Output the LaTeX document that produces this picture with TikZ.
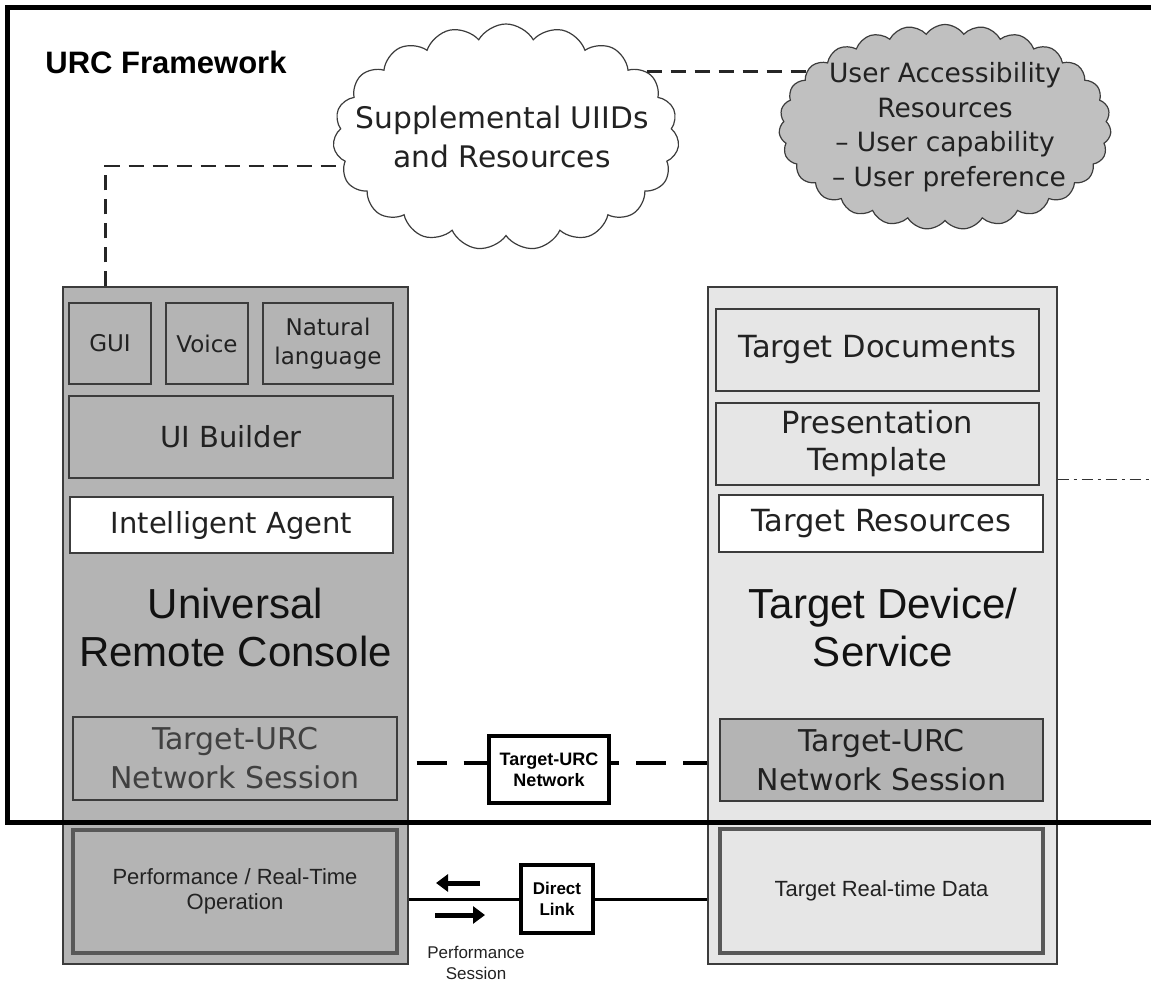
\documentclass[tikz,border=0pt]{standalone}
\usepackage{fontspec}
\setmainfont{Liberation Sans}
\newfontfamily\dv{DejaVu Sans}
\usetikzlibrary{shapes.symbols,arrows.meta,calc}
\definecolor{gA}{HTML}{B4B4B4}
\definecolor{gB}{HTML}{E6E6E6}
\definecolor{gC}{HTML}{C0C0C0}
\definecolor{ln}{HTML}{3C3C3C}
\definecolor{pb}{HTML}{585858}
\definecolor{tx}{HTML}{222222}
\begin{document}
\begin{tikzpicture}[x=1pt,y=-1pt,
  bx/.style 2 args={minimum width=#1pt, minimum height=#2pt},
  bigbox/.style={draw=ln, line width=1.3pt, rectangle, inner sep=0pt},
  box/.style={draw=ln, line width=1.4pt, rectangle, inner sep=0pt, align=center, text=tx},
  perfbox/.style={draw=pb, line width=3.5pt, rectangle, inner sep=0pt, align=center, text=tx,
     font=\fontsize{22}{25}\selectfont},
  thickbox/.style={draw=black, line width=4pt, fill=white, rectangle, inner sep=0pt, align=center},
  fA/.style={font=\dv\fontsize{29}{37}\selectfont},
  fR/.style={font=\dv\fontsize{30.5}{37}\selectfont},
  fNet/.style={font=\dv\fontsize{30}{39}\selectfont},
  fS/.style={font=\dv\fontsize{23}{29}\selectfont},
  fBig/.style={font=\fontsize{42}{48}\selectfont, align=center, text=black!93},
  dashline/.style={draw=black!85, line width=2.4pt, dash pattern=on 15pt off 9pt},
  netdash/.style={draw=black, line width=4pt, dash pattern=on 30pt off 17pt},
  dashdotline/.style={draw=black!80, line width=1pt, dash pattern=on 11pt off 5pt on 3pt off 5pt},
  solidline/.style={draw=black, line width=3pt},
  fatarrow/.style={draw=black, line width=5pt, -{Triangle[length=12pt,width=17pt]}},
  cloudshape/.style={cloud, draw=ln, line width=1.2pt, inner sep=0pt, cloud ignores aspect}
]
\useasboundingbox (0,0) rectangle (1151,981);

% clouds
\node[cloudshape, cloud puffs=19, cloud puff arc=120, fill=white, bx={346}{226}] (supp) at (506,137) {};
\node[font=\dv\fontsize{29.7}{39}\selectfont, align=center, text=tx] (supptxt) at (502,137) {Supplemental UIIDs\\and Resources};
\node[cloudshape, cloud puffs=27, cloud puff arc=110, fill=gC, bx={332}{205}] (uar) at (945,127) {};
\node[font=\dv\fontsize{26.5}{34.5}\selectfont, align=center, text=tx] (uartxt) at (945,127)
  {User Accessibility\\Resources\\– User capability\\\hspace*{8pt}– User preference};

% big columns
\node[bigbox, fill=gA, bx={345}{677}] (bigL) at (235.5,625.5) {};
\node[bigbox, fill=gB, bx={349}{677}] (bigR) at (882.5,625.5) {};

% left column
\node[box, fill=gA, bx={82}{81}, fS] (gui) at (110,343.5) {GUI};
\node[box, fill=gA, bx={82}{81}, fS] (voice) at (207,343.5) {Voice};
\node[box, fill=gA, bx={130}{81}, fS] (natl) at (328,343.5) {Natural\\language};
\node[box, fill=gA, bx={324}{82}, fA] (uib) at (231,437) {UI Builder};
\node[box, fill=white, bx={323}{56}, fA] (ia) at (231.5,525) {Intelligent Agent};
\node[fBig] (urc) at (235.5,627) {Universal\\Remote Console};
\node[box, fill=gA, bx={324}{83}, fNet, text=black!75] (tul) at (235,758.5) {Target-URC\\Network Session};
\node[perfbox, fill=gA, bx={324}{123}] (perf) at (235,891.5) {Performance / Real-Time\\Operation};

% right column
\node[box, fill=gB, bx={323}{82}, fR] (td) at (877.5,350) {Target Documents};
\node[box, fill=gB, bx={323}{82}, fR] (pt) at (877.5,444) {Presentation\\Template};
\node[box, fill=white, bx={324}{57}, fR] (tr) at (881,523.5) {Target Resources};
\node[fBig] (tds) at (883,627) {Target Device/\\Service};
\node[box, fill=gA, bx={323}{82}, fNet] (tur) at (881.5,760) {Target-URC\\Network Session};
\node[perfbox, fill=gB, bx={323}{124}] (trd) at (881.5,891) {Target Real-time Data};

% middle
\node[thickbox, bx={120}{67}, font=\bfseries\fontsize{18}{21}\selectfont] (tun) at (549,769.5) {Target-URC\\Network};
\node[thickbox, bx={72}{68}, font=\bfseries\fontsize{17}{21}\selectfont] (dl) at (557,899) {Direct\\Link};
\node[font=\fontsize{17}{21}\selectfont, align=center, text=tx] (ps) at (476,962.5) {Performance\\Session};

% connectors
\draw[dashline] ([xshift=43pt]bigL.north west) |- (supp.190);
\draw[dashline] (supp.25) -- (supp.25 -| uar.159);

\coordinate (nety) at ($(tun.west)+(0,-6.5)$);
\draw[netdash, dash phase=39pt] (bigL.east |- nety) -- (nety);
\draw[netdash, dash phase=22pt] (tun.east |- nety) -- (bigR.west |- nety);

\draw[solidline] (bigL.east |- dl.west) -- (dl.west);
\draw[solidline] (dl.east) -- (bigR.west |- dl.east);

\coordinate (a1s) at (480,883);
\coordinate (a1e) at (436,883);
\coordinate (a2s) at (435,915);
\coordinate (a2e) at (485,915);
\draw[fatarrow] (a1s) -- (a1e);
\draw[fatarrow] (a2s) -- (a2e);

\coordinate (ddstart) at ($(bigR.east |- pt.south)+(0,-6)$);
\coordinate (ddend) at (1160,479);
\draw[dashdotline] (ddstart) -- (ddstart -| ddend);

% framework frame
\draw[line width=5pt, line join=miter] (1165,8) -- (7,8) -- (7,822) -- (1165,822);
\node[font=\bfseries\fontsize{31}{36}\selectfont, anchor=base] (urcfw) at (166,74) {URC Framework};
\end{tikzpicture}
\end{document}
